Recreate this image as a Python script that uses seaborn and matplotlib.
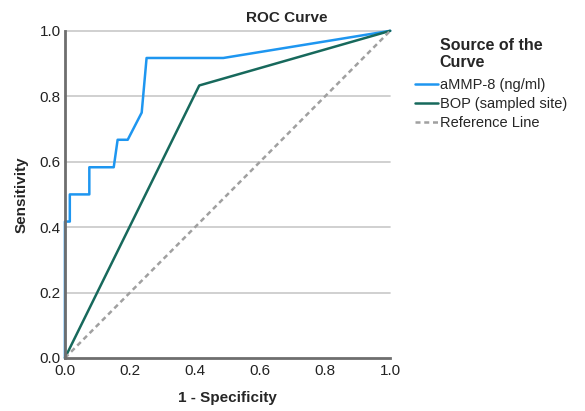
import matplotlib
matplotlib.use("Agg")
import matplotlib.pyplot as plt
import seaborn as sns
import pandas as pd

# Data
ammp_fpr = [0.0, 0.0, 0.015, 0.015, 0.075, 0.075, 0.150, 0.162, 0.193, 0.236, 0.251, 0.487, 1.0]
ammp_tpr = [0.0, 0.417, 0.417, 0.500, 0.500, 0.583, 0.583, 0.667, 0.667, 0.750, 0.917, 0.917, 1.0]
bop_fpr = [0.0, 0.413, 1.0]
bop_tpr = [0.0, 0.833, 1.0]
ref_fpr = [0.0, 1.0]
ref_tpr = [0.0, 1.0]
series_names = ["aMMP-8 (ng/ml)", "BOP (sampled site)", "Reference Line"]
ticks = [0.0, 0.2, 0.4, 0.6, 0.8, 1.0]
tick_labels = ["0.0", "0.2", "0.4", "0.6", "0.8", "1.0"]

frames = []
for name, xs, ys in zip(series_names, [ammp_fpr, bop_fpr, ref_fpr], [ammp_tpr, bop_tpr, ref_tpr]):
    frames.append(pd.DataFrame({"fpr": xs, "tpr": ys, "src": name, "order": range(len(xs))}))
df = pd.concat(frames, ignore_index=True)

sns.set_theme(style="white")
plt.rcParams["font.family"] = ["Liberation Sans", "DejaVu Sans"]

fig = plt.figure(figsize=(5.85, 4.11), dpi=100)
ax = fig.add_axes([0.111, 0.129, 0.556, 0.796])

palette = {"aMMP-8 (ng/ml)": "#1E96F0", "BOP (sampled site)": "#17695C", "Reference Line": "#A0A0A0"}
dashes = {"aMMP-8 (ng/ml)": "", "BOP (sampled site)": "", "Reference Line": (2, 1.5)}

for t in ticks[1:]:
    ax.axhline(t, color="#C8C8C8", lw=1.2, zorder=0)

sns.lineplot(data=df, x="fpr", y="tpr", hue="src", style="src", palette=palette,
             dashes=dashes, sort=False, estimator=None, units="src", ax=ax, lw=1.8,
             hue_order=series_names, style_order=series_names, legend=True)
for line in ax.lines:
    line.set_clip_on(False)

ax.set_xlim(0, 1)
ax.set_ylim(0, 1)
ax.set_xticks(ticks)
ax.set_xticklabels(tick_labels)
ax.set_yticks(ticks)
ax.set_yticklabels(tick_labels)
ax.tick_params(axis="both", length=0, labelsize=11, colors="#222222")
ax.tick_params(axis="x", pad=4)
ax.tick_params(axis="y", pad=3)
for s in ["top", "right"]:
    ax.spines[s].set_visible(False)
for s in ["left", "bottom"]:
    ax.spines[s].set_color("#6E6E6E")
    ax.spines[s].set_linewidth(2.0)
ax.set_xlabel("1 - Specificity", fontsize=11, fontweight="bold", labelpad=10)
ax.set_ylabel("Sensitivity", fontsize=11, fontweight="bold", labelpad=8)

handles, labels = ax.get_legend_handles_labels()
ax.legend_.remove()
for h in handles:
    h.set_linewidth(1.8)
leg = fig.legend(handles, labels, loc="upper left", bbox_to_anchor=(0.697, 0.926),
                 title="Source of the\nCurve", frameon=False, fontsize=10.5,
                 handlelength=1.6, handletextpad=0.1, labelspacing=0.32,
                 title_fontproperties={"weight": "bold", "size": 11.5}, borderpad=0)
leg._legend_box.align = "center"
leg._legend_box.sep = 6

fig.text(0.49, 0.955, "ROC Curve", ha="center", va="center", fontsize=11, fontweight="bold")

fig.savefig("out.png", dpi=100)
